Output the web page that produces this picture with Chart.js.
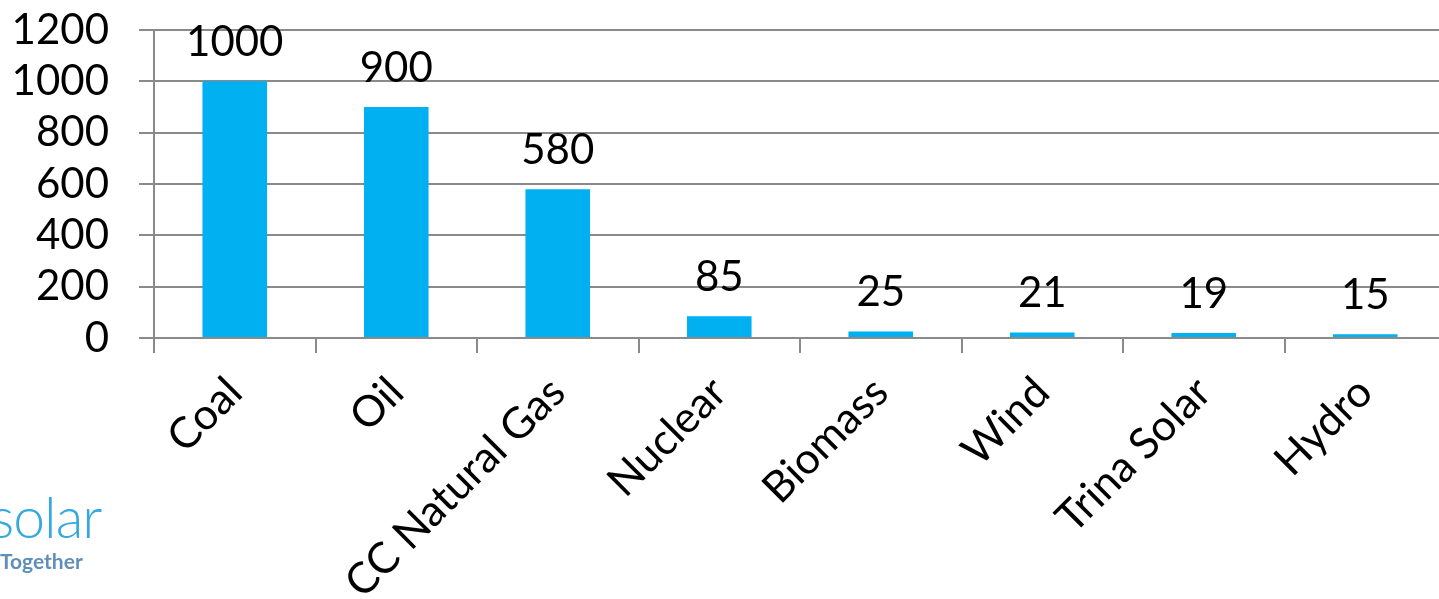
<!DOCTYPE html>
<html>
<head>
<meta charset="utf-8">
<script src="https://cdn.jsdelivr.net/npm/chart.js@4"></script>
<style>
  html, body { margin: 0; padding: 0; background: #fff; overflow: hidden; }
  #wrap { position: relative; width: 1439px; height: 599px; overflow: hidden; }
  #chart { position: absolute; left: 0; top: 0; }
  .logo { position: absolute; font-family: Lato, sans-serif; white-space: nowrap; }
  #logo-word { left: -10px; top: 482px; font-size: 57px; font-weight: 300; color: #35a8e0; letter-spacing: -1px; }
  #logo-tag { left: 0px; top: 548px; font-size: 21px; font-weight: 700; color: #5f8fb8; }
</style>
</head>
<body>
<div id="wrap">
  <canvas id="chart" width="1446" height="599"></canvas>
  <span class="logo" id="logo-word">solar</span>
  <span class="logo" id="logo-tag">Together</span>
</div>
<script>
const categories = ['Coal', 'Oil', 'CC Natural Gas', 'Nuclear', 'Biomass', 'Wind', 'Trina Solar', 'Hydro'];
const values = [1000, 900, 580, 85, 25, 21, 19, 15];
const yTicks = [0, 200, 400, 600, 800, 1000, 1200];

const FONT = 'Lato, "Open Sans", sans-serif';
const GRID = '#8a8a8a';

// draws the number above each bar
const valueLabels = {
  id: 'valueLabels',
  afterDatasetsDraw(chart) {
    const { ctx } = chart;
    const meta = chart.getDatasetMeta(0);
    ctx.save();
    ctx.font = `42px ${FONT}`;
    ctx.fillStyle = '#000';
    ctx.textAlign = 'center';
    ctx.textBaseline = 'bottom';
    meta.data.forEach((bar, i) => {
      ctx.fillText(String(values[i]), bar.x, bar.y - 18);
    });
    ctx.restore();
  },
};

new Chart(document.getElementById('chart'), {
  type: 'bar',
  data: {
    labels: categories,
    datasets: [{
      data: values,
      backgroundColor: '#00b0f0',
      barPercentage: 0.4,
      categoryPercentage: 1,
    }],
  },
  options: {
    responsive: false,
    animation: false,
    layout: { padding: { top: 30, right: 0, left: 0, bottom: 0 } },
    plugins: {
      legend: { display: false },
      tooltip: { enabled: false },
    },
    scales: {
      x: {
        grid: {
          offset: true,
          drawOnChartArea: false,
          drawTicks: true,
          tickLength: 15,
          color: GRID,
          lineWidth: 2,
        },
        border: { display: true, color: GRID, width: 2 },
        ticks: {
          color: '#000',
          font: { family: FONT, size: 43 },
          minRotation: 45,
          maxRotation: 45,
          autoSkip: false,
          padding: 14,
        },
        afterFit(scale) {
          scale.height = 599 - 30 - 308;
          scale.paddingLeft = 0;
          scale.paddingRight = 0;
        },
      },
      y: {
        min: 0,
        max: 1200,
        afterBuildTicks(scale) { scale.ticks = yTicks.map((v) => ({ value: v })); },
        grid: {
          color: GRID,
          lineWidth: 2,
          tickLength: 15,
        },
        border: { display: true, color: GRID, width: 2 },
        ticks: {
          color: '#000',
          font: { family: FONT, size: 42 },
          autoSkip: false,
          padding: 30,
          callback: (v) => String(v),
        },
        afterFit(scale) {
          scale.width = 154;
          scale.paddingTop = 0;
          scale.paddingBottom = 0;
        },
      },
    },
  },
  plugins: [valueLabels],
});
</script>
</body>
</html>
